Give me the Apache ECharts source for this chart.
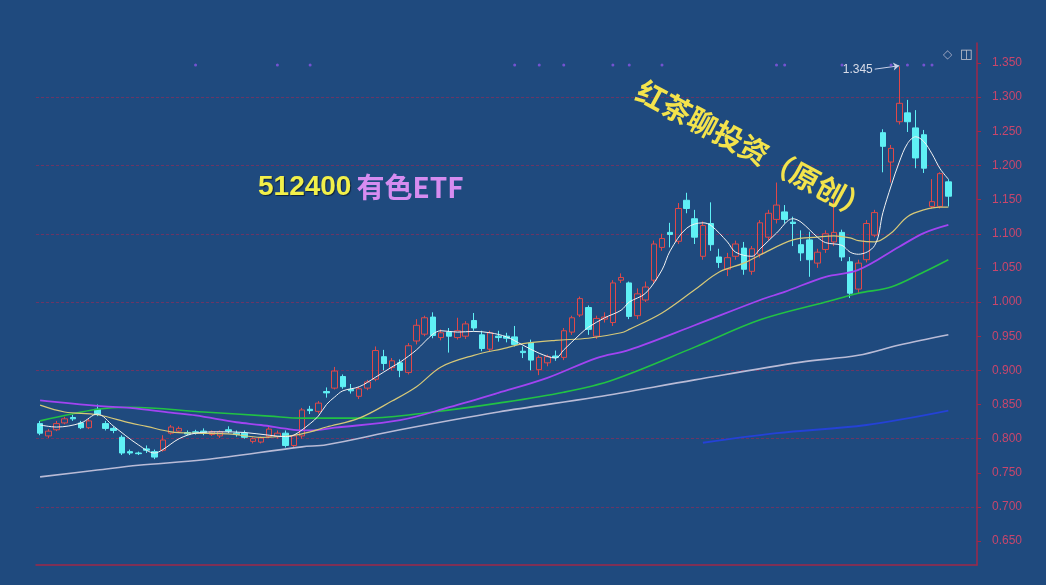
<!DOCTYPE html>
<html>
<head>
<meta charset="utf-8">
<script src="https://cdn.jsdelivr.net/npm/echarts@6/dist/echarts.min.js"></script>
<style>html,body{margin:0;padding:0;background:#1f4a7e;}#c{width:1046px;height:585px;}</style>
</head>
<body>
<div id="c"></div>
<script>
// ---- data ----
const openP = [0.822,0.804,0.813,0.823,0.831,0.823,0.816,0.843,0.822,0.815,
0.802,0.781,0.779,0.785,0.781,0.783,0.808,0.811,0.809,0.810,
0.811,0.806,0.804,0.813,0.808,0.808,0.796,0.795,0.803,0.803,
0.808,0.790,0.804,0.843,0.840,0.869,0.874,0.891,0.872,0.862,
0.874,0.887,0.920,0.904,0.911,0.897,0.943,0.953,0.978,0.948,
0.956,0.948,0.950,0.973,0.952,0.931,0.950,0.950,0.949,0.928,
0.940,0.901,0.911,0.921,0.919,0.956,0.981,0.992,0.950,0.975,
0.970,1.032,1.028,0.980,1.003,1.032,1.080,1.102,1.089,1.149,
1.122,1.067,1.115,1.066,1.048,1.067,1.079,1.045,1.070,1.095,
1.121,1.132,1.117,1.084,1.091,1.057,1.077,1.088,1.102,1.059,
1.019,1.062,1.098,1.248,1.205,1.264,1.277,1.255,1.245,1.140,
1.140,1.176];
const closeP = [0.808,0.811,0.822,0.829,0.829,0.816,0.826,0.836,0.815,0.812,
0.779,0.779,0.778,0.783,0.773,0.798,0.817,0.815,0.807,0.809,
0.809,0.810,0.810,0.811,0.806,0.802,0.800,0.801,0.814,0.808,
0.790,0.804,0.842,0.841,0.852,0.867,0.899,0.876,0.870,0.873,
0.883,0.929,0.910,0.914,0.900,0.936,0.966,0.977,0.951,0.955,
0.950,0.958,0.968,0.962,0.932,0.955,0.948,0.947,0.938,0.926,
0.915,0.919,0.920,0.919,0.958,0.977,1.005,0.960,0.976,0.978,
1.028,1.036,0.979,1.012,1.022,1.085,1.093,1.099,1.137,1.137,
1.095,1.112,1.084,1.058,1.065,1.085,1.048,1.078,1.116,1.130,
1.142,1.121,1.115,1.072,1.062,1.073,1.100,1.102,1.066,1.013,
1.057,1.115,1.131,1.228,1.225,1.291,1.264,1.211,1.196,1.147,
1.188,1.155];
const lowP = [0.805,0.801,0.811,0.821,0.826,0.814,0.814,0.833,0.812,0.808,
0.776,0.776,0.776,0.779,0.770,0.781,0.806,0.809,0.805,0.806,
0.805,0.804,0.801,0.808,0.803,0.800,0.793,0.793,0.801,0.800,
0.787,0.786,0.800,0.836,0.837,0.860,0.872,0.873,0.866,0.858,
0.871,0.884,0.900,0.900,0.890,0.894,0.938,0.950,0.947,0.944,
0.926,0.945,0.946,0.958,0.928,0.928,0.942,0.941,0.935,0.918,
0.900,0.893,0.906,0.914,0.915,0.952,0.978,0.952,0.946,0.970,
0.965,1.028,0.975,0.975,1.000,1.028,1.075,1.080,1.085,1.130,
1.085,1.062,1.075,1.050,1.038,1.062,1.040,1.040,1.065,1.090,
1.115,1.115,1.082,1.060,1.037,1.050,1.072,1.082,1.060,1.006,
1.012,1.058,1.095,1.190,1.175,1.260,1.249,1.196,1.189,1.137,
1.137,1.140];
const highP = [0.826,0.814,0.826,0.832,0.835,0.826,0.830,0.850,0.826,0.818,
0.805,0.784,0.781,0.790,0.784,0.805,0.820,0.818,0.812,0.813,
0.815,0.812,0.812,0.818,0.812,0.812,0.802,0.803,0.817,0.812,
0.812,0.806,0.845,0.848,0.855,0.875,0.905,0.894,0.880,0.876,
0.886,0.935,0.930,0.918,0.916,0.940,0.975,0.980,0.985,0.960,
0.962,0.977,0.972,0.984,0.958,0.958,0.958,0.955,0.965,0.935,
0.945,0.922,0.923,0.929,0.962,0.980,1.008,0.995,0.980,0.985,
1.032,1.042,1.030,1.020,1.030,1.090,1.100,1.116,1.145,1.160,
1.135,1.118,1.146,1.078,1.072,1.090,1.088,1.082,1.120,1.135,
1.175,1.142,1.125,1.105,1.103,1.078,1.105,1.150,1.106,1.066,
1.062,1.120,1.135,1.253,1.230,1.345,1.296,1.281,1.252,1.180,
1.190,1.180];

// moving-average lines: [bar index, value]
const ma5 = [[0,0.820],[2,0.817],[5,0.823],[7,0.836],[9,0.818],[12,0.791],[14,0.779],[15,0.784],[17,0.800],[19,0.808],[22,0.810],[25,0.809],[28,0.805],[30,0.803],[31,0.805],[33,0.822],[34,0.833],[35,0.850],[36,0.861],[37,0.870],[39,0.876],[41,0.890],[43,0.905],[44,0.912],[46,0.930],[48,0.953],[49,0.958],[51,0.956],[53,0.957],[55,0.955],[57,0.949],[59,0.937],[61,0.925],[63,0.918],[64,0.930],[66,0.953],[67,0.963],[69,0.977],[71,0.988],[72,1.000],[74,1.013],[76,1.047],[77,1.075],[79,1.108],[81,1.116],[82,1.112],[84,1.088],[85,1.073],[87,1.067],[88,1.078],[90,1.101],[92,1.122],[93,1.117],[95,1.095],[96,1.087],[98,1.083],[99,1.073],[100,1.070],[102,1.083],[103,1.131],[104,1.170],[105,1.205],[106,1.232],[107,1.242],[108,1.235],[109,1.217],[110,1.195],[111,1.180]];
const ma10 = [[0,0.849],[3,0.839],[7,0.835],[11,0.823],[13,0.818],[16,0.810],[19,0.808],[23,0.807],[27,0.802],[31,0.805],[33,0.810],[35,0.817],[39,0.830],[43,0.855],[46,0.876],[49,0.905],[53,0.922],[57,0.933],[59,0.939],[63,0.944],[67,0.947],[71,0.955],[72,0.960],[76,0.984],[80,1.018],[83,1.044],[86,1.057],[88,1.069],[92,1.091],[95,1.095],[97,1.097],[99,1.094],[100,1.090],[102,1.088],[104,1.101],[106,1.125],[108,1.135],[110,1.139],[111,1.139]];
const ma20 = [[0,0.856],[7,0.848],[11,0.845],[16,0.838],[19,0.834],[24,0.824],[27,0.820],[31,0.813],[33,0.812],[36,0.816],[44,0.827],[50,0.846],[56,0.867],[62,0.889],[68,0.918],[72,0.930],[80,0.966],[88,1.003],[91,1.015],[96,1.037],[100,1.047],[105,1.081],[108,1.101],[111,1.113]];
const ma30 = [[0,0.826],[7,0.843],[11,0.846],[20,0.839],[28,0.833],[32,0.830],[40,0.830],[48,0.839],[56,0.852],[64,0.868],[70,0.886],[80,0.934],[88,0.974],[96,1.000],[100,1.013],[104,1.022],[108,1.044],[111,1.062]];
const ma60 = [[0,0.744],[7,0.754],[12,0.761],[20,0.769],[32,0.788],[35,0.791],[44,0.813],[56,0.839],[68,0.861],[80,0.886],[93,0.912],[100,0.922],[105,0.937],[111,0.952]];
const ma120 = [[81,0.794],[90,0.808],[101,0.820],[111,0.841]];

const markerIdx = [19,29,33,58,61,64,70,72,76,90,91,98,104,106,108,109];
const markerLevel = 1.347;
const tickValues = [0.65,0.70,0.75,0.80,0.85,0.90,0.95,1.00,1.05,1.10,1.15,1.20,1.25,1.30,1.35];
const gridLevels = [0.70,0.80,0.90,1.00,1.10,1.20,1.30];
const peakLabel = '1.345';
const titleCode = '512400';
const titleName = '有色ETF';
const watermark = '红茶聊投资（原创）';

// ---- build ----
const emptySlots = 3;
const categories = [];
for (let i = 0; i < openP.length + emptySlots; i++) categories.push(String(i + 1));
const kData = openP.map((o, i) => [o, closeP[i], lowP[i], highP[i]]);
const markerData = markerIdx.map(i => [i, markerLevel]);

function maSeries(name, data, color, width, z) {
  return {
    name, type: 'line', data, smooth: 0.35, showSymbol: false, symbol: 'none',
    lineStyle: { color, width }, z: z || 3, silent: true
  };
}

const yMin = 0.615, yMax = 1.3793;
const chart = echarts.init(document.getElementById('c'));
chart.setOption({
  backgroundColor: '#1f4a7e',
  animation: false,
  title: {
    text: '{a|' + titleCode + '} {b|' + titleName + '}',
    left: 253, top: 168,
    textStyle: {
      rich: {
        a: { color: '#f2f04a', fontSize: 28, fontWeight: 'bold', fontFamily: 'Liberation Sans',
             textShadowColor: 'rgba(0,0,0,0.55)', textShadowOffsetX: 1, textShadowOffsetY: 1, textShadowBlur: 1 },
        b: { color: '#d68cf0', fontSize: 28, fontFamily: 'Noto Sans CJK SC',
             textShadowColor: 'rgba(0,0,0,0.35)', textShadowOffsetX: 1, textShadowOffsetY: 1 }
      }
    }
  },
  grid: { left: 36, right: 69, top: 43, bottom: 20 },
  xAxis: {
    type: 'category', data: categories, boundaryGap: true,
    axisLine: { show: true, lineStyle: { color: '#a02848', width: 1.5 } },
    axisTick: { show: false }, axisLabel: { show: false }, splitLine: { show: false }
  },
  yAxis: [{
    type: 'value', position: 'right', min: yMin, max: yMax,
    axisLine: { show: true, lineStyle: { color: '#a02848', width: 1.5 } },
    axisTick: { show: true, length: 4, customValues: tickValues, lineStyle: { color: '#a02848' } },
    axisLabel: { color: '#c8466c', fontSize: 12, margin: 15, fontFamily: 'Liberation Sans',
                 customValues: tickValues, formatter: v => Number(v).toFixed(3) },
    splitLine: { show: false }
  }, {
    type: 'value', position: 'left', min: yMin, max: yMax,
    axisLine: { show: false }, axisLabel: { show: false },
    axisTick: { show: false, customValues: gridLevels },
    splitLine: { show: true, lineStyle: { color: '#80305e', width: 1, type: [3, 2], opacity: 0.8 } }
  }],
  graphic: [
    { type: 'text', x: 754, y: 150, rotation: -0.49, z: 20,
      style: { text: watermark, fill: '#f3e34c', font: 'bold 29px "Noto Sans CJK SC"',
               textAlign: 'center', textVerticalAlign: 'middle', align: 'center', verticalAlign: 'middle',
               shadowColor: 'rgba(0,0,0,0.6)', shadowOffsetX: 1, shadowOffsetY: 2, shadowBlur: 2 } },
    { type: 'text', x: 943, y: 49, z: 20,
      style: { text: '◇', fill: '#9aa4c0', font: '12px "DejaVu Sans"' } },
    { type: 'text', x: 960, y: 48, z: 20,
      style: { text: '◫', fill: '#c8c8d0', font: '13px "DejaVu Sans"' } }
  ],
  series: [
    {
      name: 'K', type: 'candlestick', data: kData, barWidth: 6, z: 2,
      itemStyle: { color: 'rgba(0,0,0,0)', color0: '#5ff0f5', borderColor: '#e04848', borderColor0: '#5ff0f5', borderWidth: 1 },
      markLine: {
        silent: true, symbol: ['none', 'arrow'], symbolSize: 6, animation: false,
        lineStyle: { color: '#c8d0e8', width: 1, type: 'solid' },
        label: { show: true, position: 'start', formatter: peakLabel, color: '#d8dce8', fontSize: 12, fontFamily: 'Liberation Sans', distance: 2 },
        data: [[{ coord: [102.3, 1.341] }, { coord: [104.6, 1.346] }]]
      }
    },
    maSeries('MA60', ma60, '#b9bbd6', 1.6, 3),
    maSeries('MA30', ma30, '#22c244', 1.6, 3),
    maSeries('MA20', ma20, '#a244f2', 1.8, 3),
    maSeries('MA10', ma10, '#d6c878', 1.2, 4),
    maSeries('MA5', ma5, '#f2f2f2', 1, 5),
    maSeries('MA120', ma120, '#2442d6', 1.8, 3),
    {
      name: 'marks', type: 'scatter', data: markerData, symbol: 'circle', symbolSize: 3,
      itemStyle: { color: '#8a55e6' }, silent: true, z: 6
    }
  ]
});
</script>
</body>
</html>
